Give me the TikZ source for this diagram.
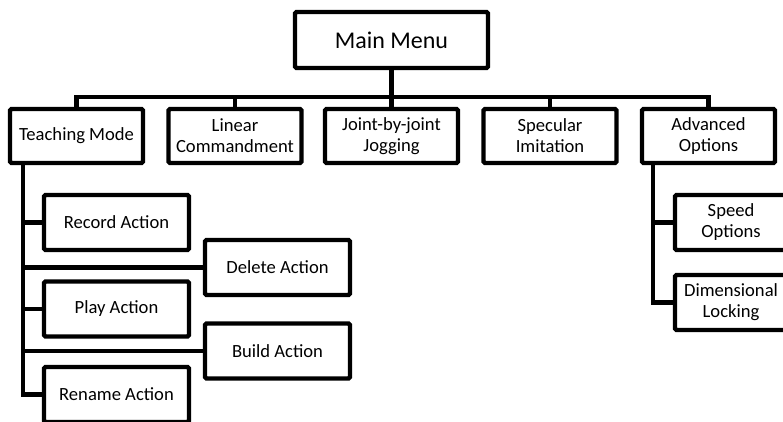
\documentclass[tikz,border=0pt]{standalone}
\usepackage{fontspec}
\setmainfont{Carlito}
\usetikzlibrary{calc, positioning}

\tikzset{
  box/.style={draw, line width=4.3pt, rounded corners=1.5pt, fill=white, align=center, inner sep=0pt, font=\fontsize{18.6}{21}\selectfont},
  menubox/.style={box, minimum width=133pt, minimum height=54pt},
  subbox/.style={box, minimum width=145pt, minimum height=55pt},
  optbox/.style={box, minimum width=112pt, minimum height=55pt},
  link/.style={line width=4.3pt},
}

\begin{document}
\begin{tikzpicture}[x=1pt,y=-1pt]
\clip (0,0) rectangle (783,422);

\node[box, minimum width=193pt, minimum height=56pt, font=\fontsize{24}{28}\selectfont] (main) at (391.5,40) {Main Menu};

\node[menubox] (teach) at (76.5,136) {Teaching Mode};
\node[menubox] (lin) at (235,136) {Linear\\Commandment};
\node[menubox] (joint) at (391.5,136) {Joint-by-joint\\Jogging};
\node[menubox] (spec) at (550,136) {Specular\\Imitation};
\node[menubox] (adv) at (708.5,136) {Advanced\\Options};

\node[subbox] (rec) at (116.5,222.5) {Record Action};
\node[subbox] (del) at (277.5,267.5) {Delete Action};
\node[subbox] (play) at (116.5,309) {Play Action};
\node[subbox] (build) at (277.5,351) {Build Action};
\node[subbox] (ren) at (116.5,394.5) {Rename Action};

\node[optbox] (speed) at (731,222.5) {Speed\\Options};
\node[optbox] (dim) at (731,302.5) {Dimensional\\Locking};

% bus under the main menu
\coordinate (bus) at (0,97);
\draw[link] (main.south) -- (main.south |- bus);
\draw[link] (teach.north) |- (adv.north |- bus) -- (adv.north);
\foreach \n in {lin,joint,spec}
  \draw[link] (\n.north) -- (\n.north |- bus);

% teaching mode branch
\coordinate (ttrunk) at ([xshift=15pt]teach.south west);
\draw[link] (ttrunk) |- (ren.west);
\foreach \n in {rec,del,play,build}
  \draw[link] (ttrunk |- \n.west) -- (\n.west);

% advanced options branch
\coordinate (atrunk) at ([xshift=13pt]adv.south west);
\draw[link] (atrunk) |- (dim.west);
\draw[link] (atrunk |- speed.west) -- (speed.west);
\end{tikzpicture}
\end{document}
